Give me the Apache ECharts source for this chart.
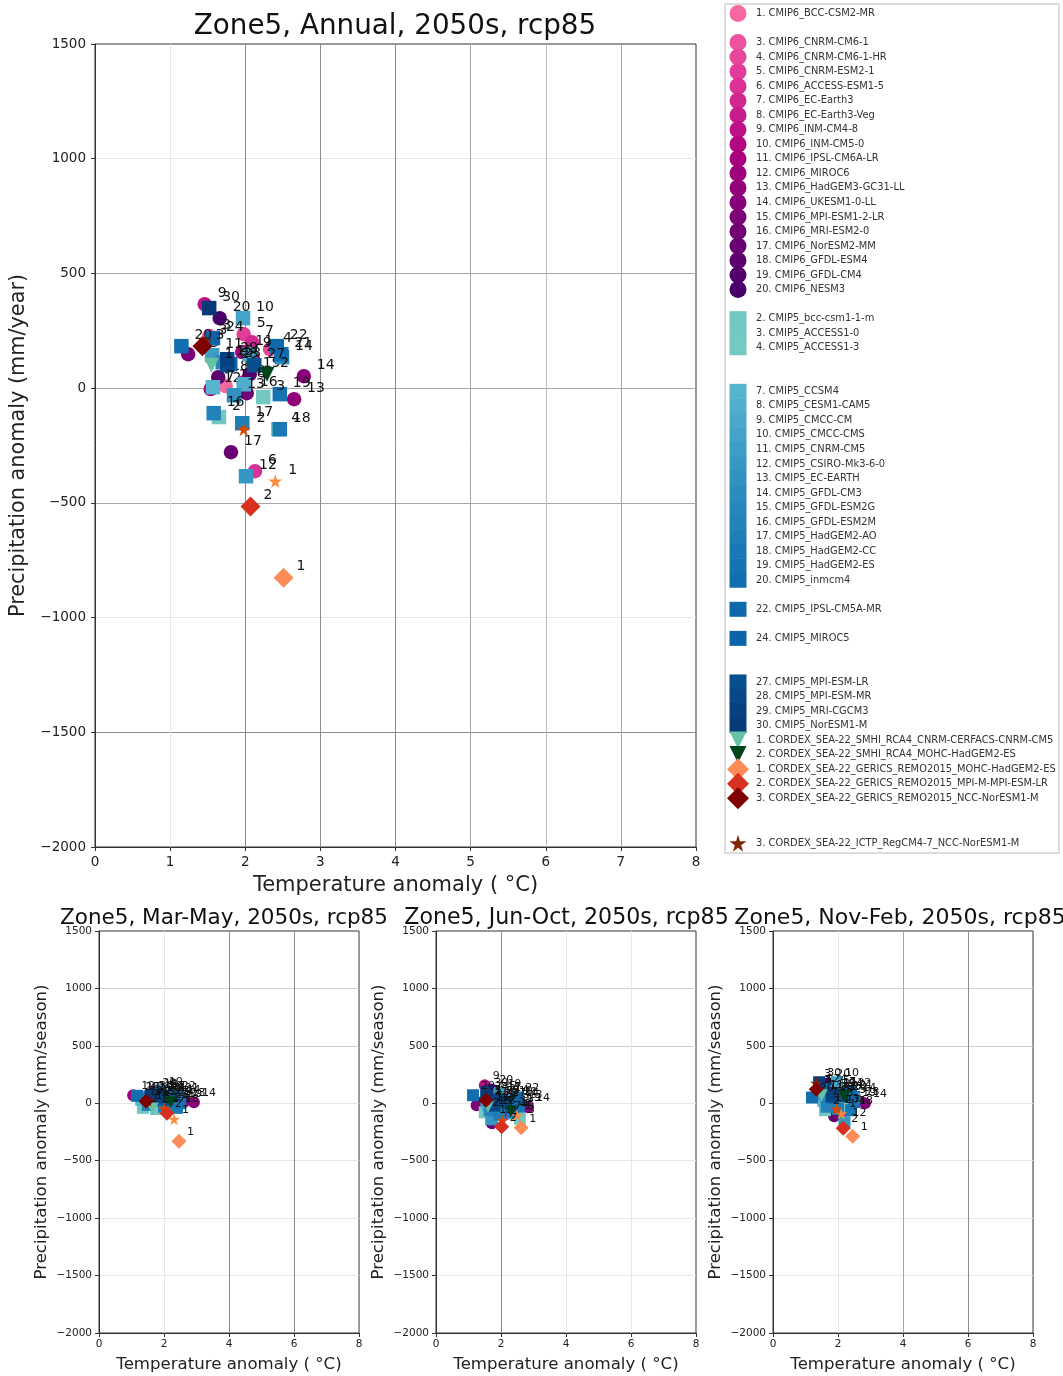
<!DOCTYPE html>
<html lang="en">
<head>
<meta charset="UTF-8">
<title>Zone5 scatter</title>
<script src="https://cdn.jsdelivr.net/npm/echarts@6/dist/echarts.min.js"></script>
<style>
  html, body { margin: 0; padding: 0; background: #fff; }
  #container { width: 1063px; height: 1376px; }
</style>
</head>
<body>
<div id="container"></div>
<script>
// model ids and names, as in the legend
var cmip6Ids = [1, 3, 4, 5, 6, 7, 8, 9, 10, 11, 12, 13, 14, 15, 16, 17, 18, 19, 20];
var cmip6Names = ['BCC-CSM2-MR', 'CNRM-CM6-1', 'CNRM-CM6-1-HR', 'CNRM-ESM2-1', 'ACCESS-ESM1-5', 'EC-Earth3', 'EC-Earth3-Veg', 'INM-CM4-8', 'INM-CM5-0', 'IPSL-CM6A-LR', 'MIROC6', 'HadGEM3-GC31-LL', 'UKESM1-0-LL', 'MPI-ESM1-2-LR', 'MRI-ESM2-0', 'NorESM2-MM', 'GFDL-ESM4', 'GFDL-CM4', 'NESM3'];
var cmip5Ids = [2, 3, 4, 7, 8, 9, 10, 11, 12, 13, 14, 15, 16, 17, 18, 19, 20, 22, 24, 27, 28, 29, 30];
var cmip5Names = ['bcc-csm1-1-m', 'ACCESS1-0', 'ACCESS1-3', 'CCSM4', 'CESM1-CAM5', 'CMCC-CM', 'CMCC-CMS', 'CNRM-CM5', 'CSIRO-Mk3-6-0', 'EC-EARTH', 'GFDL-CM3', 'GFDL-ESM2G', 'GFDL-ESM2M', 'HadGEM2-AO', 'HadGEM2-CC', 'HadGEM2-ES', 'inmcm4', 'IPSL-CM5A-MR', 'MIROC5', 'MPI-ESM-LR', 'MPI-ESM-MR', 'MRI-CGCM3', 'NorESM1-M'];
var rcaIds = [1, 2];
var rcaNames = ['CNRM-CERFACS-CNRM-CM5', 'MOHC-HadGEM2-ES'];
var remoIds = [1, 2, 3];
var remoNames = ['MOHC-HadGEM2-ES', 'MPI-M-MPI-ESM-LR', 'NCC-NorESM1-M'];
var regcmIds = [3];
var regcmNames = ['NCC-NorESM1-M'];

// points are [id, temperature anomaly, precipitation anomaly]
var annualCmip6 = [[1,1.74,9],[3,1.52,227],[4,2.33,170],[5,1.98,235],[6,2.13,-362],[7,2.09,200],[8,1.98,26],[9,1.46,366],[10,2.10,131],[11,1.96,157],[12,1.54,-4],[13,2.65,-48],[14,2.78,52],[15,1.24,148],[16,2.02,-22],[17,1.81,-279],[18,1.64,48],[19,2.06,61],[20,1.66,305]];
var annualCmip5 = [[2,1.65,-126],[3,2.24,-39],[4,2.44,-179],[7,1.57,4],[8,1.98,17],[9,2.06,148],[10,1.97,305],[11,1.56,144],[12,2.01,-384],[13,1.85,-31],[14,2.49,135],[15,1.70,113],[16,1.58,-109],[17,1.96,-153],[18,2.46,-179],[19,2.46,-26],[20,1.15,183],[21,2.48,148],[22,2.42,183],[23,1.80,105],[24,1.57,218],[27,2.12,100],[28,1.76,100],[29,1.76,126],[30,1.52,349]];
var annualRca = [[1,1.55,100],[2,2.29,61]];
var annualRemo = [[1,2.51,-826],[2,2.07,-516],[3,1.43,183]];
var annualRegcm = [[1,2.40,-405],[2,1.98,-179],[3,1.47,205]];

var mamCmip6 = [[1,1.8,20],[3,1.9,60],[4,2.2,50],[5,1.95,80],[6,2.3,-30],[7,2.2,70],[8,2.05,40],[9,1.55,70],[10,2.3,30],[11,2.0,55],[12,1.05,70],[13,2.6,10],[14,2.92,9],[15,1.2,60],[16,2.1,-20],[17,1.9,-10],[18,1.75,85],[19,2.2,20],[20,1.7,100]];
var mamCmip5 = [[2,1.35,-40],[3,1.75,-50],[4,2.4,-20],[7,1.3,30],[8,1.85,30],[9,2.15,65],[10,1.9,110],[11,1.45,40],[12,2.1,-5],[13,1.7,20],[14,2.45,40],[15,1.6,50],[16,1.5,-15],[17,2.0,-30],[18,2.4,-40],[19,2.5,0],[20,1.17,65],[21,2.4,55],[22,2.3,70],[23,1.8,30],[24,1.55,60],[27,2.1,30],[28,1.85,50],[29,1.9,70],[30,1.6,75]];
var mamRca = [[1,1.65,-45],[2,2.2,10]];
var mamRemo = [[1,2.46,-331],[2,2.09,-87],[3,1.45,17]];
var mamRegcm = [[1,2.31,-139],[2,2.0,-44],[3,1.5,25]];

var josCmip6 = [[1,1.9,-60],[3,1.8,60],[4,2.4,40],[5,2.0,70],[6,2.2,-90],[7,2.15,60],[8,2.05,-20],[9,1.5,157],[10,2.3,30],[11,1.95,50],[12,1.4,10],[13,2.6,-10],[14,2.83,-35],[15,1.25,-17],[16,2.1,-60],[17,1.72,-174],[18,1.7,30],[19,2.2,-30],[20,1.7,120]];
var josCmip5 = [[2,1.5,-78],[3,2.58,-134],[4,2.4,-90],[7,1.6,-20],[8,1.9,-10],[9,2.1,40],[10,1.95,90],[11,1.55,20],[12,1.7,-140],[13,1.75,-30],[14,2.5,10],[15,1.65,-60],[16,1.76,-61],[17,1.95,-100],[18,2.35,-80],[19,2.55,-30],[20,1.14,70],[21,2.45,20],[22,2.5,50],[23,1.85,0],[24,1.55,60],[27,2.1,10],[28,1.8,-20],[29,1.9,30],[30,1.55,100]];
var josRca = [[1,1.6,-30],[2,2.3,-70]];
var josRemo = [[1,2.62,-213],[2,2.02,-205],[3,1.54,26]];
var josRegcm = [[1,2.49,-104],[2,2.05,-150],[3,1.55,35]];

var ndjfCmip6 = [[1,2.0,-30],[3,1.65,130],[4,2.3,90],[5,1.9,120],[6,2.13,-87],[7,2.1,110],[8,2.0,40],[9,1.4,130],[10,2.2,70],[11,1.9,100],[12,1.6,-50],[13,2.6,20],[14,2.83,0],[15,1.45,90],[16,2.05,-20],[17,1.88,-113],[18,1.7,60],[19,2.2,40],[20,1.7,175]];
var ndjfCmip5 = [[2,1.6,-60],[3,2.2,-40],[4,2.4,-60],[7,1.55,20],[8,1.9,20],[9,2.1,100],[10,1.97,183],[11,1.5,80],[12,2.2,-165],[13,1.8,10],[14,2.5,50],[15,1.7,50],[16,1.65,-30],[17,2.0,-50],[18,2.4,-60],[19,2.5,10],[20,1.2,50],[21,2.4,80],[22,2.35,100],[23,1.85,50],[24,1.6,130],[27,2.1,60],[28,1.8,60],[29,1.85,90],[30,1.42,183]];
var ndjfRca = [[1,1.5,70],[2,2.2,60]];
var ndjfRemo = [[1,2.45,-287],[2,2.16,-218],[3,1.33,122]];
var ndjfRegcm = [[1,2.1,-90],[2,1.95,-50],[3,1.33,174]];

var xTicksMain = 1, xTicksSmall = 2;
var yMin = -2000, yMax = 1500, yStep = 500;

// colour ramps along the model id
var cmip6Stops = ['#f768a1', '#dd3497', '#ae017e', '#7a0177', '#49006a'];
var cmip5Ramp = { 2: '#72c7c1', 4: '#74c9c0', 7: '#56b4cf', 14: '#2b8cbe', 20: '#116fb0', 24: '#0b63a8', 27: '#084f90', 30: '#083a78' };
var rcaColors = { 1: '#66c2a4', 2: '#00441b' };
var remoColors = { 1: '#fc8d59', 2: '#d7301f', 3: '#7f0000' };
var regcmColors = { 1: '#fd8d3c', 2: '#d94801', 3: '#7f2704' };

function cmip6Color(id) {
    return echarts.color.lerp((id - 1) / 19, cmip6Stops);
}
function cmip5Color(id) {
    var keys = Object.keys(cmip5Ramp).map(Number);
    for (var i = 0; i < keys.length - 1; i++) {
        if (id <= keys[i + 1]) {
            return echarts.color.lerp((id - keys[i]) / (keys[i + 1] - keys[i]), [cmip5Ramp[keys[i]], cmip5Ramp[keys[i + 1]]]);
        }
    }
    return cmip5Ramp[30];
}
function mapColor(map) {
    return function (id) { return map[id]; };
}

var starPath = 'path://M50 0L61 35L98 35L68 57L79 92L50 70L21 92L32 57L2 35L39 35Z';
var families = [
    { color: cmip6Color, symbol: 'circle', size: 14.5, small: 12, z: 2 },
    { color: cmip5Color, symbol: 'rect', size: 14.5, small: 12, z: 3 },
    { color: mapColor(rcaColors), symbol: 'triangle', rotate: 180, size: 15, small: 12, z: 4 },
    { color: mapColor(remoColors), symbol: 'diamond', size: 20, small: 15, z: 6 },
    { color: mapColor(regcmColors), symbol: starPath, size: 14, small: 12, z: 5 }
];

// the faint and dark grid lines differ per panel, first entry is the first inner tick
var grey = '#a6a6a6', dark = '#8c8c8c', faint = '#e6e6e6', soft = '#cfcfcf', mid = '#bcbcbc';
var mainXLines = [faint, dark, dark, dark, grey, mid, grey];
var mainYLines = [dark, faint, grey, grey, grey, faint];
var mamXLines = [faint, dark, dark];
var smallYLines = [faint, faint, faint, faint, soft, soft];
var josXLines = [dark, faint, faint];
var ndjfXLines = [faint, grey, dark];

var panels = [
    { title: 'Zone5, Annual, 2050s, rcp85', titleLeft: 390, titleSize: 27.8, left: 95, top: 44, width: 601, height: 803, yName: 'Precipitation anomaly (mm/year)', step: xTicksMain, main: true, xLines: mainXLines, yLines: mainYLines,
      data: [annualCmip6, annualCmip5, annualRca, annualRemo, annualRegcm] },
    { title: 'Zone5, Mar-May, 2050s, rcp85', titleLeft: 219, titleSize: 21.5, left: 99, top: 931, width: 260, height: 402, yName: 'Precipitation anomaly (mm/season)', step: xTicksSmall, xLines: mamXLines, yLines: smallYLines,
      data: [mamCmip6, mamCmip5, mamRca, mamRemo, mamRegcm] },
    { title: 'Zone5, Jun-Oct, 2050s, rcp85', titleLeft: 561.5, titleSize: 22.1, left: 436, top: 931, width: 260, height: 402, yName: 'Precipitation anomaly (mm/season)', step: xTicksSmall, xLines: josXLines, yLines: smallYLines,
      data: [josCmip6, josCmip5, josRca, josRemo, josRegcm] },
    { title: 'Zone5, Nov-Feb, 2050s, rcp85', titleLeft: 895, titleSize: 22, left: 773, top: 931, width: 260, height: 402, yName: 'Precipitation anomaly (mm/season)', step: xTicksSmall, xLines: ndjfXLines, yLines: smallYLines,
      data: [ndjfCmip6, ndjfCmip5, ndjfRca, ndjfRemo, ndjfRegcm] }
];

var fontName = 'DejaVu Sans';
var option = { animation: false, backgroundColor: '#fff', textStyle: { fontFamily: fontName }, title: [], grid: [], xAxis: [], yAxis: [], series: [] };

panels.forEach(function (p, n) {
    var tickSize = p.main ? 13.5 : 10.5;
    var axisLine = { show: true, onZero: false, lineStyle: { color: '#333', width: 1 } };
    option.title.push({
        text: p.title, left: p.titleLeft, top: p.main ? 8 : 902, textAlign: 'center',
        textStyle: { fontFamily: fontName, fontWeight: 'normal', color: '#111', fontSize: p.titleSize }
    });
    option.grid.push({ left: p.left, top: p.top, width: p.width, height: p.height, show: true, borderColor: '#333', borderWidth: 1, backgroundColor: '#fff' });
    option.xAxis.push({
        type: 'value', gridIndex: n, min: 0, max: 8, interval: p.step,
        name: 'Temperature anomaly ( °C)', nameLocation: 'middle', nameGap: p.main ? 28 : 23,
        nameTextStyle: { color: '#222', fontSize: p.main ? 21 : 16.6 },
        axisLine: axisLine, axisTick: { show: true, length: 4, lineStyle: { color: '#333' } },
        axisLabel: { color: '#222', fontSize: tickSize, margin: p.main ? 8 : 6 },
        splitLine: { show: true, showMinLine: false, showMaxLine: false, lineStyle: { color: p.xLines, width: 1 } }
    });
    option.yAxis.push({
        type: 'value', gridIndex: n, min: yMin, max: yMax, interval: yStep,
        name: p.yName, nameLocation: 'middle', nameGap: p.main ? 64 : 49,
        nameTextStyle: { color: '#222', fontSize: p.main ? 20.8 : 16.6 },
        axisLine: axisLine, axisTick: { show: true, length: 4, lineStyle: { color: '#333' } },
        axisLabel: { color: '#222', fontSize: tickSize, margin: p.main ? 9 : 7, formatter: function (v) { return String(v).replace('-', '\u2212'); } },
        splitLine: { show: true, showMinLine: false, showMaxLine: false, lineStyle: { color: p.yLines, width: 1 } }
    });
    p.data.forEach(function (points, k) {
        var fam = families[k];
        option.series.push({
            type: 'scatter', xAxisIndex: n, yAxisIndex: n, z: fam.z,
            symbol: fam.symbol, symbolRotate: fam.rotate || 0, symbolSize: p.main ? fam.size : fam.small,
            data: points, encode: { x: 1, y: 2 },
            itemStyle: { opacity: 1, color: function (a) { return fam.color(a.data[0]); } },
            label: {
                show: true, position: 'inside', align: 'left', verticalAlign: 'middle',
                offset: p.main ? [13, -11] : [8, -9], color: '#111', fontSize: p.main ? 14 : 11,
                formatter: function (a) { return String(a.data[0]); }
            }
        });
    });
});

// the legend is its own small panel: rows count down the box, gaps stay for missing models
var legendN = panels.length;
option.grid.push({ left: 725, top: 4, width: 334, height: 849, show: true, borderColor: '#dcdcdc', borderWidth: 2, backgroundColor: '#fff' });
option.xAxis.push({ type: 'value', gridIndex: legendN, min: 0, max: 334, show: false });
option.yAxis.push({ type: 'value', gridIndex: legendN, min: -0.654, max: 57.77, inverse: true, show: false });

var legendGroups = [
    { ids: cmip6Ids, names: cmip6Names, prefix: 'CMIP6_', first: -1, color: cmip6Color, symbol: 'circle', size: 17 },
    { ids: cmip5Ids, names: cmip5Names, prefix: 'CMIP5_', first: 19, color: cmip5Color, symbol: 'rect', size: [17, 15] },
    { ids: rcaIds, names: rcaNames, prefix: 'CORDEX_SEA-22_SMHI_RCA4_', first: 49, color: mapColor(rcaColors), symbol: 'triangle', rotate: 180, size: 17 },
    { ids: remoIds, names: remoNames, prefix: 'CORDEX_SEA-22_GERICS_REMO2015_', first: 51, color: mapColor(remoColors), symbol: 'diamond', size: 22 },
    { ids: regcmIds, names: regcmNames, prefix: 'CORDEX_SEA-22_ICTP_RegCM4-7_', first: 54.1, color: mapColor(regcmColors), symbol: starPath, size: 17 }
];
legendGroups.forEach(function (g) {
    option.series.push({
        type: 'scatter', xAxisIndex: legendN, yAxisIndex: legendN, z: 2,
        symbol: g.symbol, symbolRotate: g.rotate || 0, symbolSize: g.size,
        data: g.ids.map(function (id, i) { return [13, id + g.first, id, id + '. ' + g.prefix + g.names[i]]; }),
        encode: { x: 0, y: 1 },
        itemStyle: { opacity: 1, color: function (a) { return g.color(a.data[2]); } },
        label: {
            show: true, position: 'inside', align: 'left', verticalAlign: 'middle', offset: [18, 0],
            color: '#333', fontSize: 9.9, formatter: function (a) { return a.data[3]; }
        }
    });
});

var chart = echarts.init(document.getElementById('container'));
chart.setOption(option);
</script>
</body>
</html>
